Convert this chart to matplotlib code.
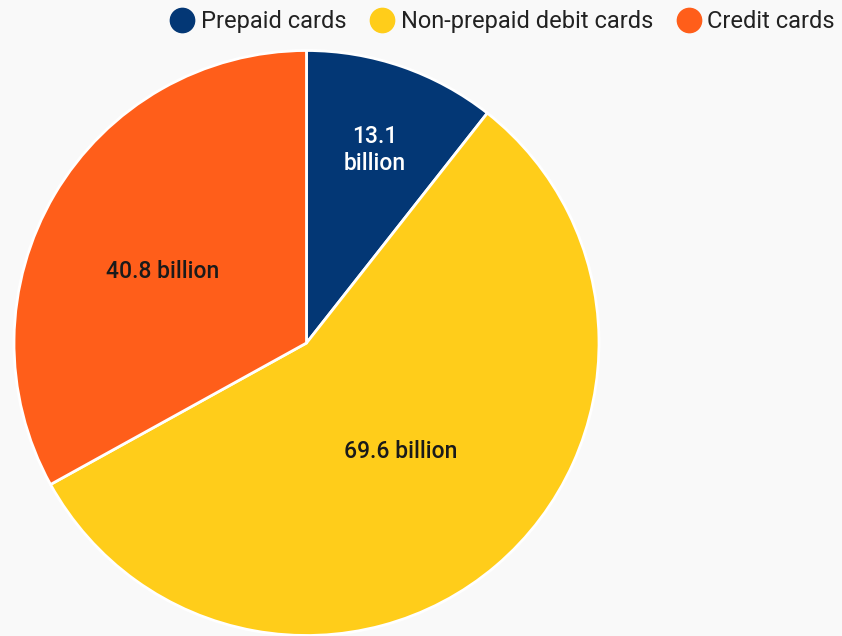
import numpy as np
import matplotlib.pyplot as plt
from matplotlib.lines import Line2D

categories = ['Prepaid cards', 'Non-prepaid debit cards', 'Credit cards']
values = [13.1, 69.6, 40.8]
labels = ['13.1\nbillion', '69.6 billion', '40.8 billion']
colors = ['#033775', '#FFCD1A', '#FF5E1A']
text_colors = ['white', '#1a1a1a', '#1a1a1a']
label_dist = [0.70, 0.492, 0.55]
label_shift = [-0.5, 0.5, 4]  # degrees off the wedge middle

bg = '#F9F9F9'
plt.rcParams['font.family'] = ['Roboto', 'DejaVu Sans']

fig = plt.figure(figsize=(8.42, 6.36), dpi=100, facecolor=bg)
# pie axes placed so the circle sits left, touching the bottom
ax = fig.add_axes([14 / 842, 0.5 / 636, 585 / 842, 585 / 636])
ax.set_facecolor(bg)

wedges, _ = ax.pie(values, colors=colors, startangle=90, counterclock=False,
                   radius=1, wedgeprops=dict(edgecolor='white', linewidth=2))
ax.set_xlim(-1, 1)
ax.set_ylim(-1, 1)
ax.set_aspect('equal')
ax.axis('off')

for w, lab, tc, d, s in zip(wedges, labels, text_colors, label_dist, label_shift):
    mid = np.deg2rad((w.theta1 + w.theta2) / 2 + s)
    ax.text(d * np.cos(mid), d * np.sin(mid), lab, ha='center', va='center',
            color=tc, fontsize=16.5, fontweight='medium', linespacing=1.25)

handles = [Line2D([], [], marker='o', linestyle='none', markersize=17.5,
                  markerfacecolor=c, markeredgecolor=c) for c in colors]
fig.legend(handles, categories, loc='upper right', bbox_to_anchor=(1.0, 0.995),
           ncol=3, frameon=False, fontsize=17, handletextpad=0.3,
           columnspacing=1.0, borderpad=0.0, borderaxespad=0.3,
           handlelength=1.0, labelcolor='#222222')

plt.savefig('out.png', dpi=100, facecolor=bg)
